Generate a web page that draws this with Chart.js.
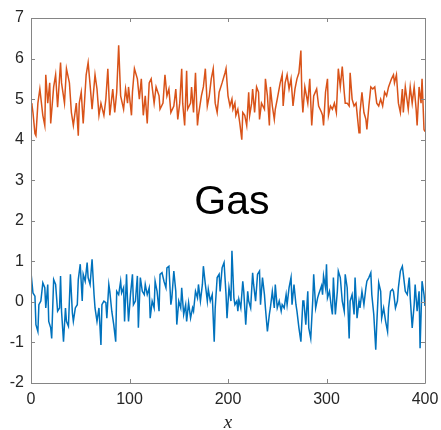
<!DOCTYPE html>
<html>
<head>
<meta charset="utf-8">
<script src="https://cdn.jsdelivr.net/npm/chart.js@4/dist/chart.umd.min.js"></script>
<style>
html,body{margin:0;padding:0;background:#fff;}
#wrap{width:441px;height:430px;}
</style>
</head>
<body>
<div id="wrap"><canvas id="c" width="441" height="430"></canvas></div>
<script>
const orangeX = [0,1,2,4,5,7,9,12,14,15,17,19,20,23,25,27,30,31,34,36,39,41,43,46,48,49,51,53,56,58,60,62,65,67,69,71,74,76,78,80,83,85,87,89,91,94,96,98,99,102,103,105,108,110,112,114,116,118,120,122,125,127,130,131,134,136,138,140,142,145,147,149,151,153,154,156,158,159,162,163,165,167,169,170,173,175,177,179,181,183,185,187,189,191,194,197,198,200,202,204,205,207,208,210,212,214,215,217,219,221,222,224,225,227,229,231,232,234,237,238,240,242,243,245,247,248,250,253,255,256,258,260,262,264,266,268,270,272,274,275,276,278,281,283,285,287,290,292,295,296,297,299,301,302,304,306,308,310,312,314,316,318,319,321,323,324,326,328,330,333,334,336,338,340,341,343,345,347,349,351,353,355,357,359,361,363,366,368,369,371,373,375,377,378,380,383,385,387,389,391,392,394,396,397,399,400];
const orangeY = [4.9,4.85,4.67,4.15,4.1,4.9,5.25,4.6,4.35,5.6,4.9,5.4,4.4,5.3,5.6,4.8,5.9,5.4,4.9,5.75,5.4,4.67,4.35,4.9,4.1,4.9,5.17,4.4,5.6,5.9,5.35,4.75,5.6,5.25,4.6,4.9,4.6,5.0,5.75,4.6,5.25,4.67,5.17,6.33,5.08,4.75,5.25,4.9,5.3,4.6,5.17,5.75,5.5,5.0,5.5,4.6,5.08,4.4,5.4,5.5,4.9,5.3,5.08,4.75,4.9,5.6,5.08,5.25,4.67,4.83,5.25,4.5,4.9,5.75,4.9,4.35,5.7,4.75,4.9,5.3,4.67,5.65,4.35,4.6,5.08,5.3,5.75,4.83,5.08,5.5,5.75,4.9,4.67,5.17,5.4,5.65,5.75,5.08,4.83,5.0,4.75,4.9,4.6,4.75,4.4,4.0,4.67,4.6,4.35,5.17,4.6,4.9,5.25,4.67,5.3,5.17,4.5,4.9,4.75,5.5,5.08,4.35,5.3,4.83,4.5,4.75,5.0,5.4,5.6,4.83,5.4,5.6,5.25,5.5,4.83,5.25,5.5,5.65,6.2,5.08,4.67,5.3,4.9,5.5,4.35,5.08,5.25,4.83,4.67,4.6,4.35,5.17,5.5,4.6,4.83,4.75,4.9,4.67,5.75,5.3,5.8,5.17,4.9,4.9,4.83,5.65,5.0,4.83,4.9,4.17,4.67,5.17,4.67,4.5,4.25,4.83,5.3,5.25,5.3,4.9,4.83,5.0,4.83,5.17,5.08,5.3,5.5,5.6,5.4,5.6,4.9,4.67,5.25,4.67,5.3,4.75,5.3,4.9,5.3,4.75,4.35,5.3,4.9,5.5,4.25,4.2];
const blueX = [0,2,4,5,7,8,10,12,14,15,17,18,20,21,23,25,27,29,30,31,33,35,36,38,40,42,43,45,47,48,50,52,53,55,57,58,60,62,64,65,67,69,71,72,74,76,77,79,80,82,84,86,87,89,91,92,94,95,97,98,99,101,103,104,106,108,109,111,113,115,116,118,120,121,123,125,126,128,130,131,133,135,137,138,140,142,143,145,147,148,150,152,153,155,157,158,160,162,164,165,167,169,170,172,174,175,177,179,180,182,184,186,187,189,191,192,194,196,198,199,201,203,204,206,207,209,210,211,213,215,216,218,220,221,223,225,226,228,230,232,233,235,237,238,240,242,243,245,247,248,250,252,254,255,257,259,260,262,264,265,267,269,270,272,274,276,277,279,281,282,284,286,287,289,291,292,295,296,297,299,300,301,303,305,306,307,309,311,312,314,316,318,319,321,323,324,326,328,329,331,333,334,336,338,340,341,343,345,346,348,350,351,353,355,356,358,360,362,363,365,367,368,370,372,373,375,377,378,380,382,384,385,387,389,390,392,394,395,397,399,400];
const blueY = [0.72,0.22,0.14,-0.56,-0.73,-0.07,0.02,0.47,0.35,-0.15,0.43,-0.48,-0.64,-0.9,0.55,0.43,-0.23,-0.15,0.64,-0.23,-0.98,-0.15,-0.48,-0.6,0.68,-0.27,-0.48,-0.15,-0.07,0.55,0.93,0.02,0.68,0.51,0.97,0.6,0.43,1.05,0.18,-0.15,-0.48,-0.15,-1.06,-0.07,0.02,-0.02,-0.4,0.43,0.26,-0.23,-0.56,-0.98,0.26,0.18,0.51,0.22,0.35,-0.48,0.68,0.02,-0.48,0.18,0.68,-0.07,0.02,0.64,-0.64,0.6,0.26,0.18,0.43,0.18,0.35,-0.4,0.02,-0.15,0.51,0.26,-0.23,0.68,0.72,0.51,0.35,0.84,0.88,-0.07,0.1,0.76,0.26,-0.56,0.02,-0.15,0.35,-0.31,-0.07,-0.48,-0.02,-0.4,-0.15,-0.23,0.26,0.1,0.43,0.02,0.43,0.88,0.43,0.02,0.31,0.02,0.18,-0.98,-0.15,0.6,0.68,0.26,0.84,0.97,0.18,-0.4,0.35,0.02,1.26,0.1,-0.07,0.02,-0.23,0.06,-0.15,0.51,0.26,-0.56,0.26,0.02,-0.15,0.72,0.43,0.02,0.68,0.76,-0.07,0.6,0.18,-0.15,-0.73,-0.31,-0.15,0.26,-0.15,0.43,-0.15,0.02,-0.23,-0.07,-0.15,0.18,-0.07,0.35,0.6,-0.07,0.43,-0.07,-0.23,-0.64,-0.98,0.02,0.02,-0.56,0.26,-0.64,-0.9,0.02,0.68,-0.15,0.1,0.18,0.4,0.18,0.64,0.35,0.93,0.1,0.26,-0.15,-0.31,0.6,-0.31,0.26,0.76,0.6,0.02,-0.23,0.68,0.35,-0.9,0.02,0.18,-0.31,0.6,-0.4,0.02,-0.15,0.26,-0.07,0.35,0.51,0.6,0.72,0.18,-0.31,-1.18,-0.56,0.47,0.26,-0.4,-0.15,-0.48,-0.73,-0.15,0.26,0.31,0.26,-0.15,0.02,0.35,0.76,0.88,0.68,0.26,0.18,0.6,0.1,-0.64,-0.07,0.43,-0.23,0.26,-1.14,0.51,0.18,-0.1];
const xTitle = 'x';
const annotationText = 'Gas';

function pairs(xs, ys){ return xs.map((x,i)=>({x:x,y:ys[i]})); }

const boxPlugin = {
  id: 'boxTicks',
  afterDraw(chart){
    const {ctx, chartArea:a, scales} = chart;
    const xs = scales.x, ys = scales.y;
    ctx.save();
    ctx.strokeStyle = '#858585';
    ctx.lineWidth = 1;
    ctx.beginPath();
    ctx.rect(Math.round(a.left)+0.5, Math.round(a.top)+0.5, Math.round(a.right-a.left), Math.round(a.bottom-a.top));
    const L = 4;
    xs.ticks.forEach(t=>{
      const p = Math.round(xs.getPixelForValue(t.value))+0.5;
      ctx.moveTo(p, a.bottom); ctx.lineTo(p, a.bottom-L);
      ctx.moveTo(p, a.top); ctx.lineTo(p, a.top+L);
    });
    ys.ticks.forEach(t=>{
      const p = Math.round(ys.getPixelForValue(t.value))+0.5;
      ctx.moveTo(a.left, p); ctx.lineTo(a.left+L, p);
      ctx.moveTo(a.right, p); ctx.lineTo(a.right-L, p);
    });
    ctx.stroke();
    ctx.fillStyle = '#000';
    ctx.font = '41px "Liberation Sans", Arial, Helvetica, sans-serif';
    ctx.textAlign = 'center';
    ctx.textBaseline = 'alphabetic';
    ctx.fillText(annotationText, xs.getPixelForValue(204), ys.getPixelForValue(2.17));
    ctx.restore();
  }
};

new Chart(document.getElementById('c'), {
  type: 'line',
  data: {
    datasets: [
      {data: pairs(blueX, blueY), borderColor: '#0072BD', borderWidth: 1.5, pointRadius: 0, tension: 0, fill: false},
      {data: pairs(orangeX, orangeY), borderColor: '#D95319', borderWidth: 1.5, pointRadius: 0, tension: 0, fill: false}
    ]
  },
  options: {
    responsive: false,
    animation: false,
    events: [],
    layout: {padding: {left: 0, right: 16, top: 18, bottom: 0}},
    plugins: {legend: {display: false}, tooltip: {enabled: false}},
    scales: {
      x: {
        type: 'linear', min: 0, max: 400,
        afterFit(s){ s.height = 47; s.paddingLeft = 0; s.paddingRight = 0; },
        ticks: {stepSize: 100, color: '#262626', padding: 7, maxRotation: 0,
          font: {family: '"Liberation Sans", Arial, Helvetica, sans-serif', size: 16}},
        grid: {display: false, drawTicks: false},
        border: {display: false},
        title: {display: true, text: xTitle, color: '#262626', padding: {top: 0, bottom: -4},
          font: {family: '"Liberation Serif", "DejaVu Serif", serif', size: 19, style: 'italic'}}
      },
      y: {
        type: 'linear', min: -2, max: 7,
        afterFit(s){ s.width = 31; },
        ticks: {stepSize: 1, color: '#262626', padding: 7,
          font: {family: '"Liberation Sans", Arial, Helvetica, sans-serif', size: 16}},
        grid: {display: false, drawTicks: false},
        border: {display: false}
      }
    }
  },
  plugins: [boxPlugin]
});
</script>
</body>
</html>
